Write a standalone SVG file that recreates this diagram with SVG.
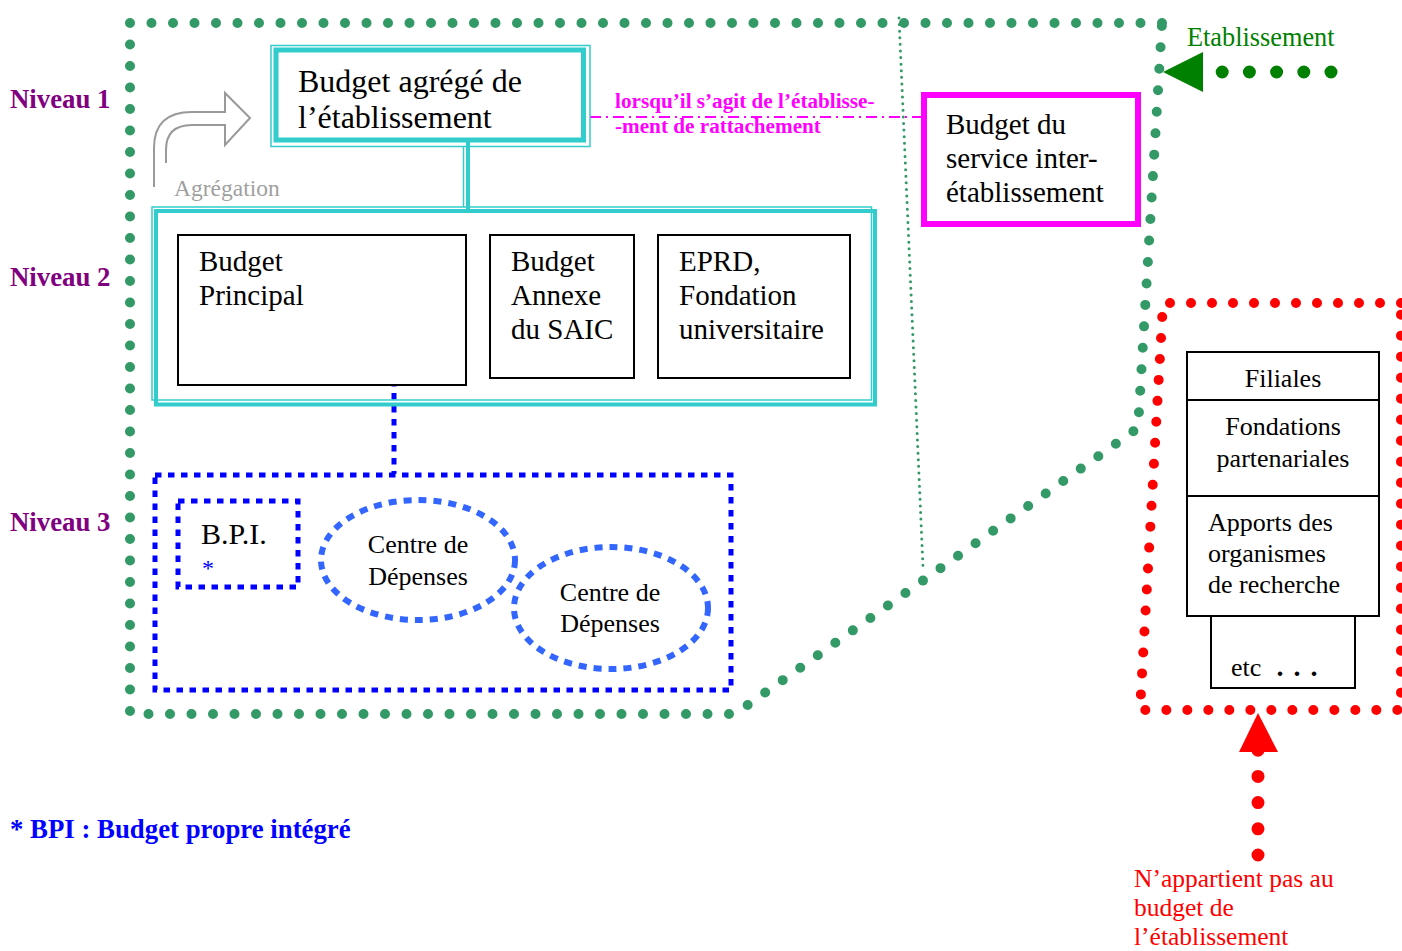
<svg xmlns="http://www.w3.org/2000/svg" width="1402" height="951" viewBox="0 0 1402 951">
<style>
  text { font-family: "Liberation Serif", "Times New Roman", serif; }
  .t29 { font-size: 29px; fill: #000; }
  .t26 { font-size: 26px; fill: #000; }
  .niv { font-size: 26.8px; font-weight: bold; fill: #800080; }
  .gdot { fill: none; stroke: #339966; stroke-width: 10; stroke-linecap: round; stroke-dasharray: 0 21.5; }
  .rdot { fill: none; stroke: #FF0000; stroke-width: 10; stroke-linecap: round; stroke-dasharray: 0 21; }
  .cyk { fill: none; stroke: #33CCCC; }
  .blk { fill: #fff; stroke: #000; stroke-width: 2; }
  .bdash { fill: none; stroke: #0000FF; stroke-width: 5; stroke-dasharray: 6.5 6.5; }
  .edash { fill: none; stroke: #3366FF; stroke-width: 6; stroke-dasharray: 8 7; }
  .mag { font-size: 21.2px; font-weight: bold; fill: #FF00FF; }
  .red { font-size: 25.5px; fill: #FF0000; }
</style>

<!-- Regions -->
<g id="etablissement-region">
  <path class="gdot" d="M1162,23 L130,23 L130,714 L735,714 L1138,428 L1162,23"/>
  <path d="M899,18 L923,567" fill="none" stroke="#339966" stroke-width="3" stroke-linecap="round" stroke-dasharray="0 6.6"/>
</g>
<g id="hors-etablissement-region">
  <path class="rdot" d="M1401,303 L1163,303 L1140,710 L1401,710 Z"/>
</g>

<!-- Level labels -->
<g id="labels">
  <text class="niv" x="10" y="108">Niveau 1</text>
  <text class="niv" x="10" y="286">Niveau 2</text>
  <text class="niv" x="10" y="531">Niveau 3</text>
  <text x="10" y="838" font-size="26.8" font-weight="bold" fill="#0000FF">* BPI : Budget propre intégré</text>
</g>

<!-- Connectors -->
<g id="connectors">
  <line x1="468" y1="142" x2="468" y2="211" stroke="#33CCCC" stroke-width="4"/>
  <line x1="463.5" y1="147" x2="463.5" y2="207" stroke="#33CCCC" stroke-width="1.5"/>
  <line x1="394" y1="380" x2="394" y2="474" class="bdash"/>
  <line x1="590" y1="117" x2="921" y2="117" stroke="#FF00FF" stroke-width="2" stroke-dasharray="11 5 2 5"/>
  <!-- Etablissement arrow -->
  <path d="M1331,72 L1222,72" fill="none" stroke="#008000" stroke-width="13" stroke-linecap="round" stroke-dasharray="0 27.2"/>
  <polygon points="1163,72 1203,52 1203,92" fill="#008000"/>
  <!-- red arrow -->
  <path d="M1258,855 L1258,750" fill="none" stroke="#FF0000" stroke-width="13" stroke-linecap="round" stroke-dasharray="0 26.2"/>
  <polygon points="1258,713 1239,752 1278,752" fill="#FF0000"/>
</g>

<!-- Agrégation -->
<g id="agregation">
  <path d="M166,163 L166,150 Q166,125 192,125 L225,125 L225,145 L250,118 L225,93 L225,112 L192,112 Q154,112 154,148 L154,187" fill="#fff" stroke="#999999" stroke-width="2" stroke-linejoin="miter"/>
  <text x="174" y="196" font-size="23.5" fill="#A0A0A0">Agrégation</text>
</g>

<!-- Level 1 -->
<g id="budget-agrege">
  <rect x="271" y="45.5" width="319" height="101" class="cyk" stroke-width="1.5"/>
  <rect x="276" y="50" width="307.5" height="90" fill="#fff" class="cyk" stroke-width="5"/>
  <text x="298" y="92" font-size="32">Budget agrégé de</text>
  <text x="298" y="128" font-size="32">l’établissement</text>
</g>

<g id="lien-label">
  <text class="mag" x="615" y="108">lorsqu’il s’agit de l’établisse-</text>
  <text class="mag" x="615" y="133">-ment de rattachement</text>
</g>

<g id="budget-service-inter">
  <rect x="924" y="95" width="214" height="129" fill="#fff" stroke="#FF00FF" stroke-width="6"/>
  <text class="t29" x="946" y="134">Budget du</text>
  <text class="t29" x="946" y="168">service inter-</text>
  <text class="t29" x="946" y="202">établissement</text>
</g>

<g id="etablissement-label">
  <text x="1187" y="46" font-size="26.3" fill="#008000">Etablissement</text>
</g>

<!-- Level 2 -->
<g id="niveau2">
  <rect x="152" y="207" width="719.5" height="193" class="cyk" stroke-width="1.5"/>
  <rect x="156" y="211" width="719" height="193.5" class="cyk" stroke-width="4"/>
</g>
<g id="budget-principal">
  <rect x="178" y="235" width="288" height="150" class="blk"/>
  <text class="t29" x="199" y="271">Budget</text>
  <text class="t29" x="199" y="305">Principal</text>
</g>
<g id="budget-annexe">
  <rect x="490" y="235" width="144" height="143" class="blk"/>
  <text class="t29" x="511" y="271">Budget</text>
  <text class="t29" x="511" y="305">Annexe</text>
  <text class="t29" x="511" y="339">du SAIC</text>
</g>
<g id="eprd">
  <rect x="658" y="235" width="192" height="143" class="blk"/>
  <text class="t29" x="679" y="271">EPRD,</text>
  <text class="t29" x="679" y="305">Fondation</text>
  <text class="t29" x="679" y="339">universitaire</text>
</g>

<!-- Level 3 -->
<g id="niveau3">
  <rect x="155" y="475" width="576" height="215" class="bdash"/>
</g>
<g id="bpi">
  <rect x="178" y="501" width="120" height="86" class="bdash"/>
  <text x="201" y="544" font-size="30">B.P.I.</text>
  <text x="202" y="576" font-size="24" fill="#0000FF">*</text>
</g>
<g id="centre-depenses-1">
  <ellipse cx="418" cy="560" rx="97" ry="60" class="edash"/>
  <text class="t26" x="418" y="553" text-anchor="middle">Centre de</text>
  <text class="t26" x="418" y="585" text-anchor="middle">Dépenses</text>
</g>
<g id="centre-depenses-2">
  <ellipse cx="611" cy="608" rx="97" ry="61" class="edash"/>
  <text class="t26" x="610" y="601" text-anchor="middle">Centre de</text>
  <text class="t26" x="610" y="632" text-anchor="middle">Dépenses</text>
</g>

<!-- Hors établissement -->
<g id="filiales">
  <rect x="1187" y="352" width="192" height="48" class="blk"/>
  <text class="t26" x="1283" y="387" text-anchor="middle">Filiales</text>
</g>
<g id="fondations">
  <rect x="1187" y="400" width="192" height="96" class="blk"/>
  <text class="t26" x="1283" y="435" text-anchor="middle">Fondations</text>
  <text class="t26" x="1283" y="467" text-anchor="middle">partenariales</text>
</g>
<g id="apports">
  <rect x="1187" y="496" width="192" height="120" class="blk"/>
  <text class="t26" x="1208" y="531">Apports des</text>
  <text class="t26" x="1208" y="562">organismes</text>
  <text class="t26" x="1208" y="593">de recherche</text>
</g>
<g id="etc">
  <rect x="1211" y="616" width="144" height="72" class="blk"/>
  <text class="t26" x="1231" y="676">etc</text>
  <text x="1276.5" y="676" font-size="28" font-weight="bold" letter-spacing="1.5">. . .</text>
</g>
<g id="hors-label">
  <text class="red" x="1134" y="887">N’appartient pas au</text>
  <text class="red" x="1134" y="916">budget de</text>
  <text class="red" x="1134" y="945">l’établissement</text>
</g>
</svg>
